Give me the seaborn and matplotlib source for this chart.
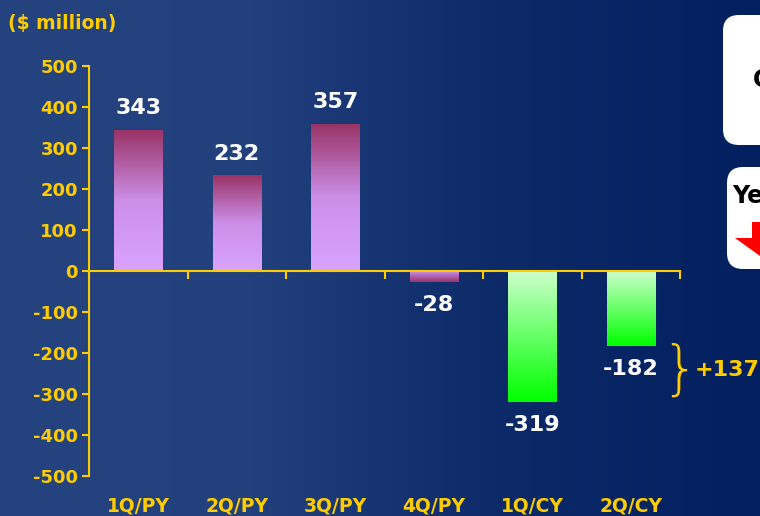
import numpy as np
import pandas as pd
import seaborn as sns
from matplotlib import pyplot as plt
from matplotlib.colors import LinearSegmentedColormap
from matplotlib.patches import FancyBboxPatch, Polygon

# chart data
quarters = ['1Q/PY', '2Q/PY', '3Q/PY', '4Q/PY', '1Q/CY', '2Q/CY']
values = [343, 232, 357, -28, -319, -182]
change_label = '+137'
y_ticks = list(range(-500, 501, 100))

gold = '#ffcc00'
sns.set_style('white')
plt.rcParams['font.family'] = ['DejaVu Sans']

fig = plt.figure(figsize=(7.6, 5.16), dpi=100)

# blue gradient background
bg = fig.add_axes([0, 0, 1, 1])
bg.axis('off')
bg_cmap = LinearSegmentedColormap.from_list('bg', ['#25447f', '#21407c', '#0c2968', '#02205f'])
bg.imshow(np.linspace(0, 1, 256).reshape(1, -1), aspect='auto', cmap=bg_cmap, extent=[0, 1, 0, 1])

ax = fig.add_axes([89 / 760, 1 - 476 / 516, 591 / 760, 410 / 516])
ax.patch.set_alpha(0)

df = pd.DataFrame({'quarter': quarters, 'value': values})
sns.barplot(data=df, x='quarter', y='value', width=0.49, color='#cc99ff', ax=ax)

# swap flat bars for gradient images
pos_cmap = LinearSegmentedColormap.from_list('pos', ['#d9a3ff', '#cc8fe8', '#993366'])
neg_small_cmap = LinearSegmentedColormap.from_list('negs', ['#993366', '#cc99ff'])
green_cmap = LinearSegmentedColormap.from_list('grn', ['#00ff00', '#66ff66', '#ccffcc'])
vgrad = np.linspace(0, 1, 256).reshape(-1, 1)
for p, v in zip(ax.patches, values):
    x0, w = p.get_x(), p.get_width()
    lo, hi = min(0, v), max(0, v)
    if v >= 0:
        cm = pos_cmap
    elif v > -100:
        cm = neg_small_cmap
    else:
        cm = green_cmap
    ax.imshow(vgrad, cmap=cm, aspect='auto', origin='lower',
              extent=[x0, x0 + w, lo, hi], zorder=2)
    p.set_visible(False)

ax.set_xlim(-0.5, 5.5)
ax.set_ylim(-500, 500)

# value labels
for i, v in enumerate(values):
    off = 54 if v >= 0 else -56
    ax.text(i, v + off, f'{v}', ha='center', va='center', color='white',
            fontsize=16, fontweight='bold', zorder=5)

# axes styling
for s in ['top', 'right']:
    ax.spines[s].set_visible(False)
ax.spines['left'].set_color(gold)
ax.spines['left'].set_linewidth(1.5)
ax.spines['bottom'].set_position(('data', 0))
ax.spines['bottom'].set_color(gold)
ax.spines['bottom'].set_linewidth(1.5)
ax.set_yticks(y_ticks)
ax.set_yticklabels([str(t) for t in y_ticks])
ax.tick_params(axis='y', left=True, colors=gold, length=5, width=1.5, direction='out',
               labelsize=13, pad=3)
for lbl in ax.get_yticklabels():
    lbl.set_fontweight('bold')
ax.set_xticks([])
ax.set_xticks(np.arange(-0.5, 6, 1), minor=True)
ax.tick_params(axis='x', which='minor', bottom=True, colors=gold, length=6, width=1.5,
               direction='out')
ax.set_xlabel('')
ax.set_ylabel('')
for i, q in enumerate(quarters):
    ax.text(i, -573, q, ha='center', va='center', color=gold, fontsize=13.5,
            fontweight='bold', clip_on=False)

# overlay in pixel coords for annotations
ov = fig.add_axes([0, 0, 1, 1])
ov.set_xlim(0, 760)
ov.set_ylim(516, 0)
ov.axis('off')
ov.patch.set_alpha(0)

ov.text(8, 24, '($ million)', color=gold, fontsize=13.5, fontweight='bold', va='center')
ov.text(680, 371, '}', color=gold, fontsize=42, fontweight='light', va='center', ha='center')
ov.text(695, 370, change_label, color=gold, fontsize=16, fontweight='bold', va='center')

ov.add_patch(FancyBboxPatch((723, 15), 80, 130, boxstyle='round,pad=0,rounding_size=16',
                            facecolor='white', edgecolor='none'))
ov.add_patch(FancyBboxPatch((727, 167), 80, 102, boxstyle='round,pad=0,rounding_size=16',
                            facecolor='white', edgecolor='none'))
ov.text(753, 80, 'C', color='black', fontsize=17, fontweight='bold', va='center')
ov.text(732, 196, 'Ye', color='black', fontsize=17, fontweight='bold', va='center')
ov.add_patch(Polygon([(760, 222), (752, 222), (752, 238), (735, 238), (760, 256)],
                     closed=True, facecolor='#ff0000', edgecolor='none'))

fig.savefig('out.png', dpi=100)
